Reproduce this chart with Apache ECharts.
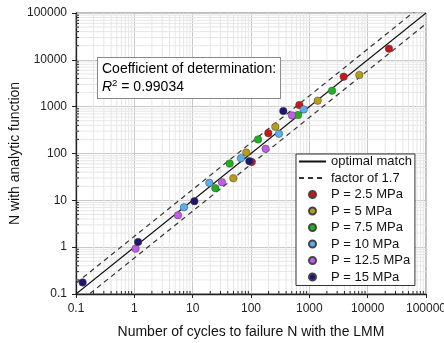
<!DOCTYPE html>
<html>
	<head>
		<meta charset="UTF-8">
		<title></title>
		<script src="https://cdn.jsdelivr.net/npm/echarts@6/dist/echarts.min.js"></script>
		<style>
			html, body {
				margin: 0;
				padding: 0;
				background: #fff;
			}
			#chart {
				width: 444px;
				height: 343px;
			}
		</style>
	</head>
	<body>
		<div id="chart"></div>
		<script type="text/javascript">
			// 测点 (LMM 计算值, 解析函数值)
			var p25X = [23200, 3880, 674, 198, 103];
			var p25Y = [17300, 4370, 1080, 272, 66];
			var p5X = [7200, 1390, 261, 83, 49.8];
			var p5Y = [4740, 1340, 372, 105, 29.7];
			var p75X = [2450, 640, 132, 43, 24.5];
			var p75Y = [2190, 661, 200, 61, 18.2];
			var p10X = [800, 302, 67.4, 19.3, 7.1];
			var p10Y = [875, 264, 79.6, 23.6, 7.13];
			var p125X = [505, 178, 31.8, 5.6, 1.05];
			var p125Y = [650, 126, 24.4, 4.8, 0.93];
			var p15X = [358, 93.6, 10.7, 1.16, 0.13];
			var p15Y = [805, 68.7, 9.6, 1.29, 0.177];

			var seriesNames = ['P = 2.5 MPa', 'P = 5 MPa', 'P = 7.5 MPa', 'P = 10 MPa', 'P = 12.5 MPa', 'P = 15 MPa'];
			var seriesColors = ['#c8161d', '#b59d1a', '#1fb21f', '#5aaff0', '#c45be8', '#1f1470'];

			// 参考线
			var optimalLine = [[0.1, 0.1], [100000, 100000]];
			var upperLine = [[0.1, 0.17], [100000, 170000]];
			var lowerLine = [[0.1, 0.0588], [100000, 58824]];

			var axisMin = 0.1, axisMax = 100000;
			var decades = [0.1, 1, 10, 100, 1000, 10000];
			var minorSteps = [2, 3, 4, 5, 6, 7, 8, 9];
			var r2Text = '0.99034';

			var font = 'Liberation Sans, Arial, sans-serif';

			function zip(xs, ys) {
				var out = [];
				for (var i = 0; i < xs.length; i++) out.push([xs[i], ys[i]]);
				return out;
			}

			var minorVals = [];
			for (var d = 0; d < decades.length; d++) {
				for (var m = 0; m < minorSteps.length; m++) {
					minorVals.push(Number((decades[d] * minorSteps[m]).toPrecision(6)));
				}
			}

			// 次网格线和内侧次刻度
			function minorX(params, api) {
				var cs = params.coordSys;
				var x = api.coord([api.value(0), axisMin])[0];
				return {
					type: 'group',
					children: [{
						type: 'line',
						shape: { x1: x, y1: cs.y, x2: x, y2: cs.y + cs.height },
						style: { stroke: '#e6e6e6', lineWidth: 1 }
					}, {
						type: 'line',
						shape: { x1: x, y1: cs.y + cs.height, x2: x, y2: cs.y + cs.height - 3 },
						style: { stroke: '#222', lineWidth: 1 }
					}]
				};
			}

			function minorY(params, api) {
				var cs = params.coordSys;
				var y = api.coord([axisMin, api.value(0)])[1];
				return {
					type: 'group',
					children: [{
						type: 'line',
						shape: { x1: cs.x, y1: y, x2: cs.x + cs.width, y2: y },
						style: { stroke: '#e6e6e6', lineWidth: 1 }
					}, {
						type: 'line',
						shape: { x1: cs.x, y1: y, x2: cs.x + 3, y2: y },
						style: { stroke: '#222', lineWidth: 1 }
					}]
				};
			}

			function fmt(v) {
				return String(Number(v.toPrecision(6)));
			}

			var series = [{
				type: 'custom',
				silent: true,
				z: 1,
				renderItem: minorX,
				data: minorVals.map(function(v) { return [v]; }),
				encode: { x: 0 }
			}, {
				type: 'custom',
				silent: true,
				z: 1,
				renderItem: minorY,
				data: minorVals.map(function(v) { return [v]; }),
				encode: { y: 0 }
			}, {
				name: 'optimal match',
				type: 'line',
				data: optimalLine,
				symbol: 'none',
				silent: true,
				z: 3,
				itemStyle: { color: '#111' },
				lineStyle: { color: '#111', width: 1.1 }
			}, {
				name: 'factor of 1.7',
				type: 'line',
				data: upperLine,
				symbol: 'none',
				silent: true,
				z: 3,
				itemStyle: { color: '#333' },
				lineStyle: { color: '#333', width: 1.2, type: [5, 4] }
			}, {
				name: 'factor of 1.7',
				type: 'line',
				data: lowerLine,
				symbol: 'none',
				silent: true,
				z: 3,
				itemStyle: { color: '#333' },
				lineStyle: { color: '#333', width: 1.2, type: [5, 4] }
			}];

			var pts = [[p25X, p25Y], [p5X, p5Y], [p75X, p75Y], [p10X, p10Y], [p125X, p125Y], [p15X, p15Y]];
			for (var i = 0; i < pts.length; i++) {
				series.push({
					name: seriesNames[i],
					type: 'scatter',
					data: zip(pts[i][0], pts[i][1]),
					symbol: 'circle',
					symbolSize: 7.5,
					z: 4,
					itemStyle: { color: seriesColors[i], borderColor: '#444', borderWidth: 0.5, opacity: 1 }
				});
			}

			function logAxis(name, gap, margin) {
				return {
					type: 'log',
					logBase: 10,
					min: axisMin,
					max: axisMax,
					name: name,
					nameLocation: 'middle',
					nameGap: gap,
					nameMoveOverlap: false,
					nameTextStyle: { fontFamily: font, fontSize: 14, color: '#111' },
					axisLine: { show: true, onZero: false, lineStyle: { color: '#222', width: 1.3 } },
					axisTick: { show: true, inside: false, length: 4, lineStyle: { color: '#222', width: 1 } },
					axisLabel: { fontFamily: font, fontSize: 12, color: '#222', margin: margin, formatter: fmt },
					splitLine: { show: true, lineStyle: { color: '#c8c8c8', width: 1 } },
					minorTick: { show: false },
					minorSplitLine: { show: false }
				};
			}

			var legendData = [
				{ name: 'optimal match', itemStyle: { opacity: 0 } },
				{ name: 'factor of 1.7', itemStyle: { opacity: 0 } }
			].concat(seriesNames);

			var chart = echarts.init(document.getElementById('chart'));
			chart.setOption({
				animation: false,
				backgroundColor: '#fff',
				textStyle: { fontFamily: font },
				grid: {
					left: 76,
					right: 18,
					top: 13,
					bottom: 49,
					outerBoundsMode: 'none',
					containLabel: false,
					show: true,
					borderColor: '#777',
					borderWidth: 1
				},
				xAxis: logAxis('Number of cycles to failure N with the LMM', 31, 9),
				yAxis: logAxis('N with analytic function', 54, 9),
				legend: {
					orient: 'vertical',
					left: 296,
					top: 154,
					padding: [1, 3, 2, 2],
					itemGap: 3.5,
					itemWidth: 27,
					itemHeight: 7,
					align: 'left',
					backgroundColor: '#fff',
					borderColor: '#333',
					borderWidth: 1,
					borderRadius: 0,
					selectedMode: false,
					textStyle: { fontFamily: font, fontSize: 13, color: '#111' },
					data: legendData
				},
				graphic: [{
					type: 'text',
					left: 97,
					top: 57,
					z: 10,
					style: {
						text: '{a|Coefficient of determination:}\n{i|R}{s|2}{a| = ' + r2Text + '}',
						align: 'center',
						backgroundColor: '#fff',
						borderColor: '#888',
						borderWidth: 1,
						padding: [2, 4, 2, 4],
						rich: {
							a: { fontFamily: font, fontSize: 14, lineHeight: 18, color: '#111' },
							i: { fontFamily: font, fontSize: 14, lineHeight: 18, fontStyle: 'italic', color: '#111' },
							s: { fontFamily: font, fontSize: 9.5, lineHeight: 18, color: '#111', verticalAlign: 'top' }
						}
					}
				}],
				series: series
			});
		</script>
	</body>
</html>
